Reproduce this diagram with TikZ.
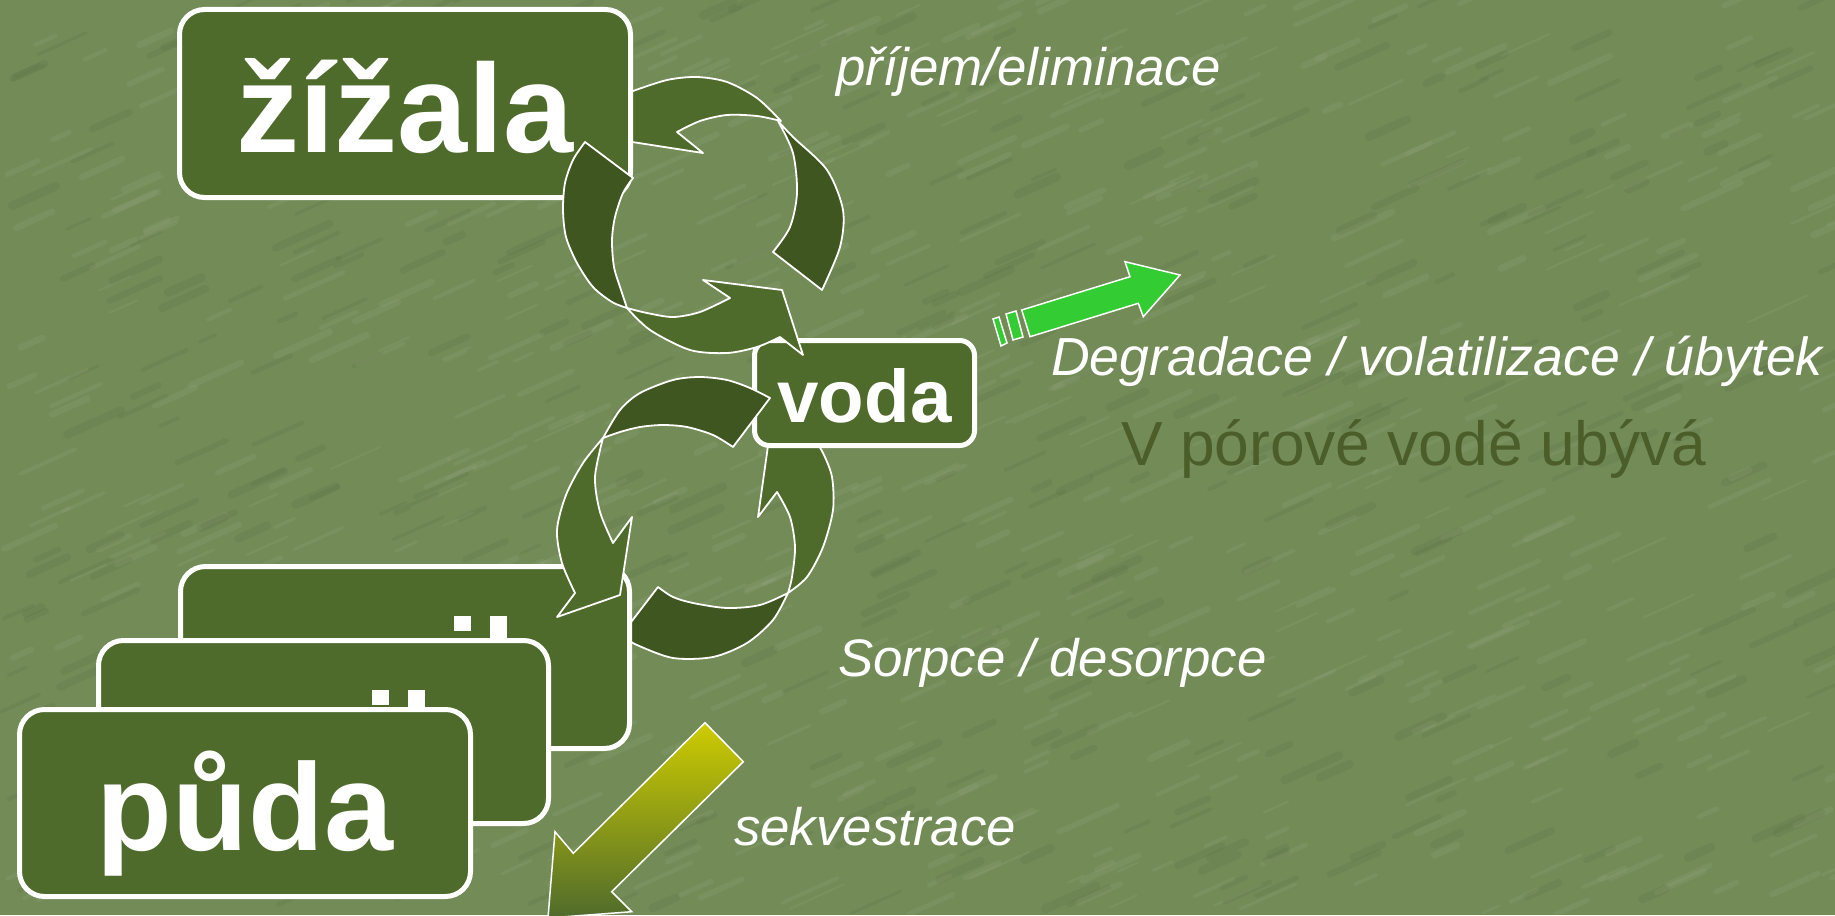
\documentclass[tikz,border=0pt]{standalone}
\usepackage{fontspec}
\setmainfont{Liberation Sans}
\definecolor{bg}{RGB}{114,139,87}
\definecolor{boxg}{RGB}{79,107,44}
\definecolor{darkg}{RGB}{63,86,33}
\definecolor{brightg}{RGB}{51,204,51}
\definecolor{yel}{RGB}{206,204,0}
\definecolor{txtg}{RGB}{75,94,42}
\tikzset{
  bigbox/.style={draw=white, line width=5pt, fill=boxg, rounded corners=25pt, inner sep=0pt, text=white,
    font=\fontsize{126}{126}\selectfont\bfseries},
  medpiece/.style={fill=boxg, draw=white, line width=1.8pt, line join=round},
  darkpiece/.style={fill=darkg, draw=white, line width=1.8pt, line join=round},
  lbl/.style={text=white, font=\fontsize{52.8}{53}\selectfont\itshape, inner sep=0pt, anchor=base west},
  fragment/.style={fill=white},
  streak/.style={line cap=round},
}
\begin{document}
\begin{tikzpicture}[x=1pt,y=-1pt]
\useasboundingbox (0,0) rectangle (1835,915);
\fill[bg] (0,0) rectangle (1835,915);
% subtle background texture
\begin{scope}
\clip (0,0) rectangle (1835,915);
\pgfmathsetseed{7}
\foreach \i in {1,...,700} {
  \pgfmathsetmacro\px{rnd*1835}
  \pgfmathsetmacro\py{rnd*915}
  \pgfmathsetmacro\pl{15+rnd*45}
  \pgfmathsetmacro\pw{2+rnd*5}
  \draw[streak, white, opacity=0.05, line width=\pw pt] (\px,\py) -- ++(\pl,-0.45*\pl);
}
\foreach \i in {1,...,400} {
  \pgfmathsetmacro\px{rnd*1835}
  \pgfmathsetmacro\py{rnd*915}
  \pgfmathsetmacro\pl{15+rnd*40}
  \pgfmathsetmacro\pw{3+rnd*6}
  \draw[streak, black, opacity=0.04, line width=\pw pt] (\px,\py) -- ++(\pl,-0.45*\pl);
}
\end{scope}

% ---- pieces behind the boxes
% upper right dark
\filldraw[darkpiece] plot[smooth] coordinates {(778,121) (793,137) (827,170) (843,210) (840,247) (822,290)}
  -- (773,252) -- plot[smooth] coordinates {(773,252) (790,227) (797,193) (793,153) (778,121)} -- cycle;
% upper top medium (head behind zizala box)
\filldraw[medpiece] (610,95) -- plot[smooth] coordinates {(633,91) (667,80) (697,77) (727,82) (757,98) (781,121)}
  -- plot[smooth] coordinates {(781,121) (757,116) (727,115) (700,121) (677,132)}
  -- (703,153) -- (600,137) -- cycle;
% lower right medium (head behind voda box)
\filldraw[medpiece] (773,410) -- (758,517) -- (777,492)
  -- plot[smooth] coordinates {(777,492) (790,517) (795,547) (792,577) (788,593)}
  -- plot[smooth] coordinates {(788,593) (807,577) (823,547) (833,510) (832,477) (823,453) (812,435)} -- cycle;
% lower bottom dark (tail behind back box)
\filldraw[darkpiece] (658,587) -- plot[smooth] coordinates {(658,587) (673,597) (693,603) (727,608) (760,605) (788,593)}
  -- plot[smooth] coordinates {(788,593) (773,620) (747,643) (713,657) (673,658) (637,645) (622,636)}
  -- (625,630) -- cycle;

% ---- boxes
\node[bigbox, minimum width=451pt, minimum height=188pt, text height=97pt, text depth=0pt] (zizala) at (405,103.5) {žížala};
\node[bigbox, rounded corners=15pt, minimum width=220pt, minimum height=105pt, text height=58pt, text depth=0pt,
  font=\fontsize{74.5}{75}\selectfont\bfseries] (voda) at (864.5,393) {voda};
\node[bigbox, minimum width=449pt, minimum height=182pt] (box3) at (405,657.5) {};
\fill[fragment] (454,616) rectangle (471,631);
\fill[fragment] (490,616) rectangle (507,660);
\node[bigbox, minimum width=450pt, minimum height=183pt] (box2) at (323.5,732) {};
\fill[fragment] (372,690) rectangle (389,705);
\fill[fragment] (408,690) rectangle (425,720);
\node[bigbox, minimum width=451pt, minimum height=187pt, text height=94pt, text depth=0pt,
  font=\fontsize{124}{124}\selectfont\bfseries] (puda) at (245,803) {půda};

% ---- pieces in front of the boxes
% upper left dark
\filldraw[darkpiece] (585,142) -- (633,178)
  -- plot[smooth] coordinates {(633,178) (623,193) (615,217) (612,240) (614,267) (621,290) (627,308)}
  -- plot[smooth] coordinates {(627,308) (612,302) (593,287) (577,263) (566,237) (563,210) (565,183) (573,160) (585,142)} -- cycle;
% upper bottom medium
\filldraw[medpiece] plot[smooth] coordinates {(627,308) (650,330) (690,350) (727,353) (757,347) (780,337)}
  -- (803,355) -- (782,290) -- (703,280) -- (730,298)
  -- plot[smooth] coordinates {(730,298) (700,312) (673,317) (647,313) (627,308)} -- cycle;
% lower top dark
\filldraw[darkpiece] plot[smooth] coordinates {(603,438) (620,410) (640,393) (673,380) (700,377) (727,380) (750,388) (770,398)}
  -- (733,447) -- plot[smooth] coordinates {(733,447) (713,435) (687,427) (663,425) (640,427) (620,432) (603,438)} -- cycle;
% lower left medium
\filldraw[medpiece] plot[smooth] coordinates {(603,438) (583,463) (566,495) (557,530) (562,563) (575,593)}
  -- (557,617) -- (620,595) -- (632,517) -- (613,543)
  -- plot[smooth] coordinates {(613,543) (600,512) (595,477) (603,438)} -- cycle;

% ---- degradation arrow
\filldraw[fill=brightg, draw=white, line width=1.5pt] (1021.7,310) -- (1130,276.7) -- (1125,261.7) -- (1180,275)
  -- (1143.3,316.7) -- (1138.3,303.3) -- (1030,336.7) -- cycle;
\filldraw[fill=brightg, draw=white, line width=1.5pt] (1006,314) -- (1016,311) -- (1023,337) -- (1013,340) -- cycle;
\filldraw[fill=brightg, draw=white, line width=1.5pt] (993,319) -- (999,317) -- (1007,343) -- (1001,346) -- cycle;

% ---- sequestration arrow
\filldraw[draw=white, line width=1.5pt, top color=yel, bottom color=boxg] (705,722.7) -- (743.3,761.7) -- (611.7,891.7)
  -- (631.7,911.7) -- (548,918) -- (555,831.7) -- (573.3,853.3) -- cycle;

% ---- labels
\node[lbl] (t1) at (836,86) {příjem/eliminace};
\node[lbl, font=\fontsize{53.6}{54}\selectfont\itshape] (t2) at (1051,375) {Degradace / volatilizace / úbytek};
\node[lbl, font=\fontsize{62.3}{63}\selectfont, text=txtg] (t3) at (1121,465) {V pórové vodě ubývá};
\node[lbl] (t4) at (838,676) {Sorpce / desorpce};
\node[lbl] (t5) at (734,845) {sekvestrace};
\end{tikzpicture}
\end{document}
